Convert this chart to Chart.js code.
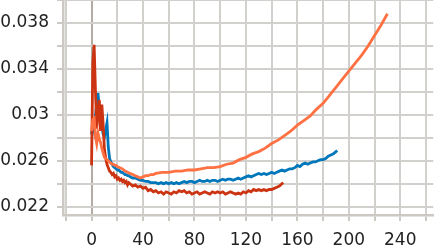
<!DOCTYPE html>
<html>
<head>
<meta charset="utf-8">
<script src="https://cdn.jsdelivr.net/npm/chart.js@4.4.1/dist/chart.umd.min.js"></script>
<style>
  html, body { margin: 0; padding: 0; background: #fff; }
  #myChart { display: block; }
</style>
</head>
<body>
<canvas id="myChart" width="435" height="248"></canvas>
<script>
// run 1 (blue)
let blueSteps = [0,1,2,3,4,5,6,7,8,9,10,11,12,13,14,15,16,17,18,19,20,21,22,23,24,25,26,27,28,29,30,
  32,34,36,38,40,42,44,46,48,50,52,54,56,58,60,62,64,66,68,70,72,74,76,78,80,82,84,86,88,90,
  92,94,96,98,100,102,104,106,108,110,112,114,116,118,120,122,124,126,128,130,132,134,136,138,140,
  142,144,146,148,150,152,154,156,158,160,162,164,166,168,170,172,174,176,178,180,182,184,186,188,190,191];
let blueLoss = [0.0283,0.0291,0.0286,0.0299,0.0309,0.0319,0.0306,0.0297,0.0291,0.0283,0.0281,0.0287,0.0293,0.0272,0.0262,0.0259,0.0257,0.0255,0.0254,0.0253,0.0252,0.0252,0.0251,0.0250,0.0250,0.0249,0.0248,0.0248,0.0247,0.0247,0.0246,
  0.0245,0.0245,0.0244,0.0243,0.0243,0.0242,0.0242,0.0241,0.0241,0.0241,0.0240,0.0241,0.0240,0.0241,0.0240,0.0241,0.0240,0.0241,0.0240,0.0241,0.0242,0.0241,0.0242,0.0242,0.0241,0.0242,0.0243,0.0242,0.0242,0.0243,
  0.0242,0.0243,0.0243,0.0242,0.0243,0.0244,0.0243,0.0244,0.0244,0.0243,0.0244,0.0245,0.0244,0.0245,0.0246,0.0247,0.0246,0.0247,0.0248,0.0249,0.0248,0.0249,0.0248,0.0249,0.0250,
  0.0249,0.0250,0.0251,0.0252,0.0251,0.0252,0.0253,0.0253,0.0254,0.0256,0.0255,0.0257,0.0258,0.0257,0.0258,0.0259,0.0259,0.0260,0.0261,0.0261,0.0262,0.0264,0.0265,0.0266,0.0268,0.0269];

// run 2 (orange)
let orangeSteps = [0,1,2,3,4,5,6,7,8,9,10,11,12,13,14,15,16,17,18,19,20,22,24,26,28,30,32,34,36,38,40,42,44,46,48,50,
  55,60,65,70,75,80,85,90,95,100,105,110,115,120,125,130,135,140,145,150,155,160,165,170,175,180,185,190,195,200,205,210,215,220,225,230];
let orangeLoss = [0.0286,0.0296,0.0297,0.0281,0.0275,0.0284,0.0279,0.0276,0.0271,0.0267,0.0263,0.0262,0.0261,0.0260,0.0259,0.0258,0.0257,0.0257,0.0256,0.0256,0.0255,0.0254,0.0253,0.0251,0.0250,0.0249,0.0248,0.0247,0.0246,0.0245,0.0246,0.0247,0.0247,0.0248,0.0248,0.0249,
  0.0250,0.0250,0.0251,0.0251,0.0252,0.0252,0.0253,0.0254,0.0254,0.0255,0.0257,0.0258,0.0261,0.0263,0.0266,0.0268,0.0271,0.0275,0.0278,0.0282,0.0286,0.0291,0.0295,0.0299,0.0305,0.0310,0.0317,0.0324,0.0331,0.0338,0.0345,0.0352,0.0360,0.0369,0.0378,0.0388];

// run 3 (dark red)
let redSteps = [0,1,2,3,4,5,6,7,8,9,10,11,12,13,14,15,16,17,18,19,20,21,22,23,24,25,26,27,28,29,30,
  32,34,36,38,40,42,44,46,48,50,52,54,56,58,60,62,64,66,68,70,72,74,76,78,80,82,84,86,88,90,
  92,94,96,98,100,102,104,106,108,110,112,114,116,118,120,122,124,126,128,130,132,134,136,138,140,142,144,146,148,149];
let redLoss = [0.0256,0.0345,0.0361,0.0322,0.0288,0.0302,0.0313,0.0286,0.0309,0.0292,0.0270,0.0262,0.0257,0.0254,0.0251,0.0250,0.0248,0.0249,0.0246,0.0247,0.0244,0.0245,0.0243,0.0244,0.0242,0.0243,0.0241,0.0242,0.0239,0.0241,0.0240,
  0.0238,0.0239,0.0237,0.0238,0.0236,0.0237,0.0234,0.0235,0.0233,0.0234,0.0232,0.0233,0.0231,0.0233,0.0232,0.0231,0.0233,0.0232,0.0234,0.0233,0.0234,0.0232,0.0233,0.0231,0.0232,0.0233,0.0231,0.0232,0.0233,0.0232,
  0.0231,0.0233,0.0232,0.0233,0.0232,0.0233,0.0231,0.0232,0.0233,0.0232,0.0231,0.0232,0.0231,0.0233,0.0232,0.0234,0.0233,0.0235,0.0234,0.0235,0.0234,0.0235,0.0234,0.0235,0.0235,0.0236,0.0237,0.0238,0.0240,0.0241];

let xTicks = [-20,0,20,40,60,80,100,120,140,160,180,200,220,240,260];
let yTicks = [0.022,0.024,0.026,0.028,0.03,0.032,0.034,0.036,0.038,0.04];

function toPoints(steps, values) {
    let pts = [];
    for (var i = 0; i < steps.length; i++) {
        pts.push({x: steps[i], y: values[i]});
    }
    return pts;
}

function line(label, color, steps, values) {
    return {
        label: label,
        data: toPoints(steps, values),
        borderColor: color,
        backgroundColor: color,
        borderWidth: 2.8,
        pointRadius: 0,
        tension: 0
    };
}

let font = {family: 'DejaVu Sans', size: 17};
let gridColor = 'rgb(210,208,204)';
let axisColor = 'rgb(204,200,195)';

var ctx = document.getElementById('myChart').getContext('2d');
var chart = new Chart(ctx, {
    type: 'line',
    data: {
        // first dataset is drawn on top
        datasets: [
            line('run 2', '#ff7043', orangeSteps, orangeLoss),
            line('run 3', '#cc3311', redSteps, redLoss),
            line('run 1', '#0077bb', blueSteps, blueLoss)
        ]
    },
    options: {
        responsive: false,
        animation: false,
        layout: {padding: 0},
        plugins: {legend: {display: false}, tooltip: {enabled: false}},
        scales: {
            x: {
                type: 'linear',
                min: -22.2,
                max: 265.6,
                afterBuildTicks: function (axis) {
                    axis.ticks = xTicks.map(function (v) { return {value: v}; });
                },
                afterFit: function (axis) {
                    axis.height = 33;
                },
                ticks: {
                    font: font,
                    color: '#222',
                    padding: 9,
                    maxRotation: 0,
                    autoSkip: false,
                    // '' keeps the grid line (null would hide it)
                    callback: function (v) {
                        return (v >= 0 && v % 40 === 0) ? String(v) : '';
                    }
                },
                grid: {
                    color: function (c) { return c.tick && c.tick.value === 0 ? '#b3aca5' : gridColor; },
                    lineWidth: 2,
                    tickColor: axisColor,
                    tickLength: 6,
                    tickWidth: 2
                },
                border: {color: axisColor, width: 2.5}
            },
            y: {
                min: 0.02128,
                max: 0.0400,
                afterBuildTicks: function (axis) {
                    axis.ticks = yTicks.map(function (v) { return {value: v}; });
                },
                afterFit: function (axis) {
                    axis.width = 63;
                    axis.paddingTop = 0;
                    axis.paddingBottom = 0;
                },
                ticks: {
                    font: font,
                    color: '#222',
                    padding: 8,
                    autoSkip: false,
                    callback: function (v) {
                        let m = Math.round(v * 1000);
                        return (m % 4 === 2) ? String(parseFloat(v.toFixed(3))) : '';
                    }
                },
                grid: {
                    color: gridColor,
                    lineWidth: 2,
                    tickColor: axisColor,
                    tickLength: 6,
                    tickWidth: 2
                },
                border: {color: axisColor, width: 2.5}
            }
        }
    }
});
</script>
</body>
</html>
